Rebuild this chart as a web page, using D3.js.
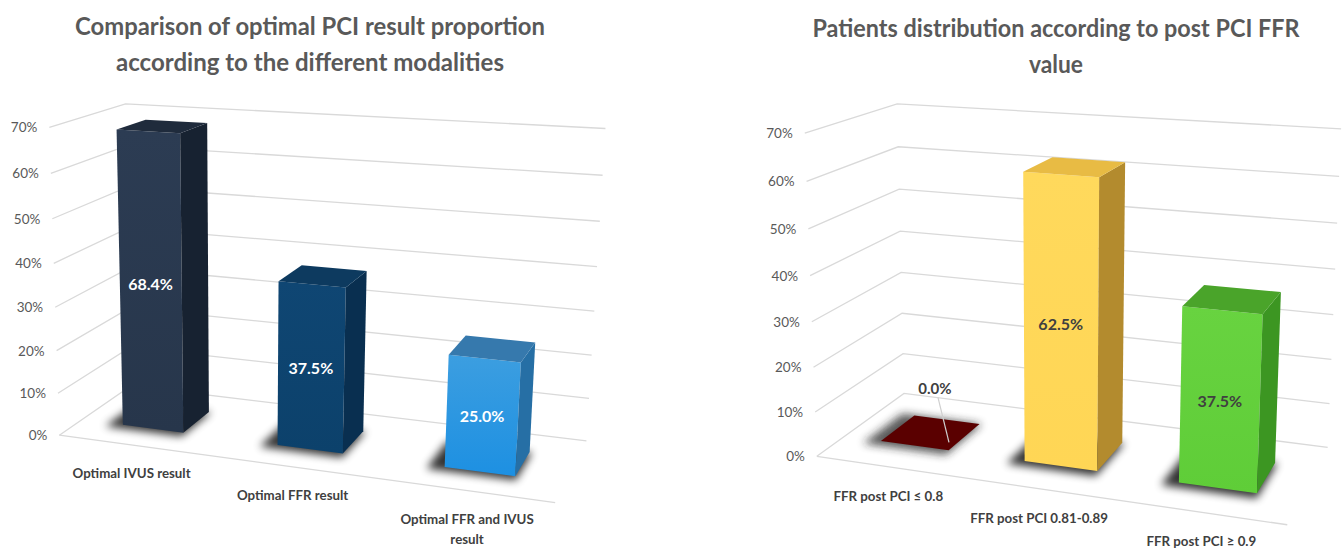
<!DOCTYPE html>
<html>
<head>
<meta charset="utf-8">
<script src="https://cdn.jsdelivr.net/npm/d3@7"></script>
<style>
  html, body { margin: 0; padding: 0; background: #ffffff; }
  svg { display: block; }
  text { font-family: Lato, "Open Sans", "DejaVu Sans", sans-serif; }
</style>
</head>
<body>
<svg id="chart" width="1343" height="550"></svg>
<script>
// ---- data -------------------------------------------------------------
const modalityCategories = ["Optimal IVUS result", "Optimal FFR result", "Optimal FFR and IVUS result"];
const modalityValues = [68.4, 37.5, 25.0];

const ffrCategories = ["FFR post PCI \u2264 0.8", "FFR post PCI 0.81-0.89", "FFR post PCI \u2265 0.9"];
const ffrValues = [0.0, 62.5, 37.5];

const yTickValues = [0, 10, 20, 30, 40, 50, 60, 70];
const yMax = 70;

const modalityTitle = ["Comparison of optimal PCI result proportion", "according to the different modalities"];
const ffrTitle = ["Patients distribution according to post PCI FFR", "value"];

// ---- styling -----------------------------------------------------------
const modalityColors = [
  { front: ["#2c3c53", "#27364b"], side: "#172231", top: "#1f2b3c" },
  { front: ["#0f4673", "#0c416b"], side: "#092f50", top: "#0d3a5f" },
  { front: ["#3c9ee0", "#1d90e2"], side: "#266fa5", top: "#3679ad" }
];
const ffrColors = [
  { front: ["#5a0000", "#5a0000"], side: "#3d0000", top: "#5a0000" },
  { front: ["#ffd95c", "#ffd655"], side: "#b38b2e", top: "#e8bb44" },
  { front: ["#68d340", "#5fcd38"], side: "#3c9622", top: "#4aa42a" }
];

// screen positions of the plot-box corners (floor / 70% level, front / back)
const modalityFrame = {
  fl0: [61.7, 433.3], fl1: [46.7, 127.7], fl10: [58.3, 392.7],
  bl0: [128.3, 388.3], bl1: [128.3, 103.3],
  br0: [587, 438.3], br1: [605, 129], fr0: [555, 505]
};
const ffrFrame = {
  fl0: [818, 456.7], fl1: [804, 133], fl10: [815, 411.7],
  bl0: [903, 393.5], bl1: [898, 104],
  br0: [1328, 447], br1: [1341, 129], fr0: [1287, 525]
};

// ---- projective camera fitted to the box corners ----------------------
function solveLinear(M) {
  const n = M.length;
  for (let c = 0; c < n; c++) {
    let piv = c;
    for (let r = c + 1; r < n; r++) if (Math.abs(M[r][c]) > Math.abs(M[piv][c])) piv = r;
    [M[c], M[piv]] = [M[piv], M[c]];
    for (let r = 0; r < n; r++) {
      if (r === c) continue;
      const f = M[r][c] / M[c][c];
      for (let k = c; k <= n; k++) M[r][k] -= f * M[c][k];
    }
  }
  return M.map((row, i) => row[n] / row[i]);
}

function fitCamera(frame) {
  const pairs = [
    [[0, 0, 0], frame.fl0], [[0, 1, 0], frame.fl1], [[0, 1 / 7, 0], frame.fl10],
    [[0, 0, 1], frame.bl0], [[0, 1, 1], frame.bl1],
    [[1, 0, 1], frame.br0], [[1, 1, 1], frame.br1], [[1, 0, 0], frame.fr0]
  ];
  const cu = d3.mean(pairs, p => p[1][0]);
  const cv = d3.mean(pairs, p => p[1][1]);
  const s = 100;
  const rows = [], rhs = [];
  pairs.forEach(([[X, Y, Z], [u0, v0]]) => {
    const u = (u0 - cu) / s, v = (v0 - cv) / s;
    rows.push([X, Y, Z, 1, 0, 0, 0, 0, -u * X, -u * Y, -u * Z]); rhs.push(u);
    rows.push([0, 0, 0, 0, X, Y, Z, 1, -v * X, -v * Y, -v * Z]); rhs.push(v);
  });
  const n = 11;
  const M = d3.range(n).map(() => new Array(n + 1).fill(0));
  rows.forEach((row, r) => {
    for (let i = 0; i < n; i++) {
      for (let j = 0; j < n; j++) M[i][j] += row[i] * row[j];
      M[i][n] += row[i] * rhs[r];
    }
  });
  const p = solveLinear(M);
  return ([X, Y, Z]) => {
    const w = p[8] * X + p[9] * Y + p[10] * Z + 1;
    return [cu + s * (p[0] * X + p[1] * Y + p[2] * Z + p[3]) / w,
            cv + s * (p[4] * X + p[5] * Y + p[6] * Z + p[7]) / w];
  };
}

// ---- drawing -------------------------------------------------------------
const svg = d3.select("#chart");
svg.append("rect").attr("width", 1343).attr("height", 550).attr("fill", "#ffffff");
const defs = svg.append("defs");
defs.append("filter").attr("id", "baseShadow")
  .attr("x", "-50%").attr("y", "-50%").attr("width", "200%").attr("height", "200%")
  .append("feGaussianBlur").attr("stdDeviation", 4);

const line = d3.line();

function wrapText(textSel, width) {
  textSel.each(function () {
    const t = d3.select(this);
    const words = t.text().split(/\s+/);
    const x = t.attr("x"), y = t.attr("y");
    t.text(null);
    let current = [];
    let tspan = t.append("tspan").attr("x", x).attr("y", y);
    words.forEach(w => {
      current.push(w);
      tspan.text(current.join(" "));
      if (tspan.node().getComputedTextLength() > width && current.length > 1) {
        current.pop();
        tspan.text(current.join(" "));
        current = [w];
        tspan = t.append("tspan").attr("x", x).attr("dy", "1.5em").text(w);
      }
    });
  });
}

function drawPanel(cfg) {
  const g = svg.append("g");
  const project = fitCamera(cfg.frame);
  const y = d3.scaleLinear().domain([0, yMax]).range([0, 1]);
  const x = d3.scaleBand().domain(cfg.categories).range([0, 1])
    .paddingInner(cfg.paddingInner).paddingOuter(cfg.paddingOuter);
  const zf = cfg.zFront, zb = cfg.zBack;

  // title
  g.selectAll("text.title").data(cfg.title).join("text")
    .attr("class", "title")
    .attr("x", cfg.titleX)
    .attr("y", (d, i) => cfg.titleY + i * 36)
    .attr("text-anchor", "middle")
    .attr("dominant-baseline", "central")
    .attr("font-size", 24).attr("font-weight", 700).attr("fill", "#595959")
    .attr("textLength", (d, i) => cfg.titleWidths[i])
    .attr("lengthAdjust", "spacingAndGlyphs")
    .text(d => d);

  // gridlines: side wall + back wall at every tick
  g.selectAll("path.grid").data(yTickValues).join("path")
    .attr("class", "grid")
    .attr("d", t => line([project([0, y(t), 0]), project([0, y(t), 1]), project([1, y(t), 1])]))
    .attr("fill", "none").attr("stroke", "#d9d9d9").attr("stroke-width", 1.3);
  // floor front edge
  g.append("path")
    .attr("d", line([project([0, 0, 0]), project([1, 0, 0])]))
    .attr("fill", "none").attr("stroke", "#d9d9d9").attr("stroke-width", 1.3);

  // value axis labels
  g.selectAll("text.tick").data(yTickValues).join("text")
    .attr("class", "tick")
    .attr("x", t => project([0, y(t), 0])[0] - 12)
    .attr("y", t => project([0, y(t), 0])[1])
    .attr("text-anchor", "end").attr("dominant-baseline", "central")
    .attr("font-size", 13.5).attr("fill", "#595959")
    .text(t => t + "%");

  // category labels, hung below the floor's front edge
  g.selectAll("text.cat").data(cfg.categories).join("text")
    .attr("class", "cat")
    .attr("x", c => project([x(c) + x.bandwidth() / 2, 0, 0])[0] + cfg.labelDx)
    .attr("y", c => project([x(c) + x.bandwidth() / 2, 0, 0])[1] + cfg.labelDy)
    .attr("text-anchor", "middle").attr("dominant-baseline", "central")
    .attr("font-size", 13.3).attr("font-weight", 700).attr("fill", "#404040")
    .text(c => c)
    .call(wrapText, 150);

  // bars
  cfg.categories.forEach((c, i) => {
    const v = cfg.values[i];
    const col = cfg.colors[i];
    const x0 = x(c), x1 = x(c) + x.bandwidth(), yt = y(v);
    const gradId = cfg.id + "-front-" + i;
    const grad = defs.append("linearGradient").attr("id", gradId)
      .attr("x1", 0).attr("y1", 0).attr("x2", 0).attr("y2", 1);
    grad.append("stop").attr("offset", "0%").attr("stop-color", col.front[0]);
    grad.append("stop").attr("offset", "100%").attr("stop-color", col.front[1]);

    // soft base shadow
    g.append("path")
      .attr("d", line([
        project([x0 - 0.03, 0, zf - 0.06]), project([x1 + 0.005, 0, zf - 0.06]),
        project([x1 + 0.005, 0, zb]), project([x0 - 0.03, 0, zb])
      ]) + "Z")
      .attr("fill", v === 0 ? "#202020" : "#000000")
      .attr("opacity", v === 0 ? 0.75 : 0.8)
      .attr("filter", "url(#baseShadow)");

    const front = [[x0, 0, zf], [x1, 0, zf], [x1, yt, zf], [x0, yt, zf]];
    const side = [[x1, 0, zf], [x1, 0, zb], [x1, yt, zb], [x1, yt, zf]];
    const top = [[x0, yt, zf], [x1, yt, zf], [x1, yt, zb], [x0, yt, zb]];
    if (v > 0) {
      g.append("path").attr("d", line(front.map(project)) + "Z").attr("fill", "url(#" + gradId + ")");
      g.append("path").attr("d", line(side.map(project)) + "Z").attr("fill", col.side);
    }
    g.append("path").attr("d", line(top.map(project)) + "Z").attr("fill", col.top);

    // value label
    const xc = (x0 + x1) / 2;
    if (v > 0) {
      const p = project([xc, yt / 2, zf]);
      g.append("text")
        .attr("x", p[0]).attr("y", p[1])
        .attr("text-anchor", "middle").attr("dominant-baseline", "central")
        .attr("font-size", 16).attr("font-weight", 700).attr("fill", cfg.valueColor)
        .text(v.toFixed(1) + "%");
    } else {
      // empty bar: label raised above the base with a leader line
      const base = project([xc, 0, (zf + zb) / 2]);
      g.append("path")
        .attr("d", line([[base[0] + 7, base[1] - 35], [base[0] + 18, base[1] + 10]]))
        .attr("stroke", "#cfcfcf").attr("stroke-width", 1.2).attr("fill", "none");
      g.append("text")
        .attr("x", base[0] + 4).attr("y", base[1] - 44)
        .attr("text-anchor", "middle").attr("dominant-baseline", "central")
        .attr("font-size", 15).attr("font-weight", 700).attr("fill", "#404040")
        .text(v.toFixed(1) + "%");
    }
  });
}

drawPanel({
  id: "modality", title: modalityTitle, titleX: 310, titleY: 25, titleWidths: [470, 388],
  categories: modalityCategories, values: modalityValues, colors: modalityColors,
  frame: modalityFrame, paddingInner: 0.6, paddingOuter: 0.275,
  zFront: 0.3, zBack: 0.7, labelDx: 0, labelDy: 28, valueColor: "#ffffff"
});
drawPanel({
  id: "ffr", title: ffrTitle, titleX: 1056, titleY: 27, titleWidths: [487, 54],
  categories: ffrCategories, values: ffrValues, colors: ffrColors,
  frame: ffrFrame, paddingInner: 0.52, paddingOuter: 0.26,
  zFront: 0.3, zBack: 0.7, labelDx: 0, labelDy: 29, valueColor: "#404040"
});
</script>
</body>
</html>
